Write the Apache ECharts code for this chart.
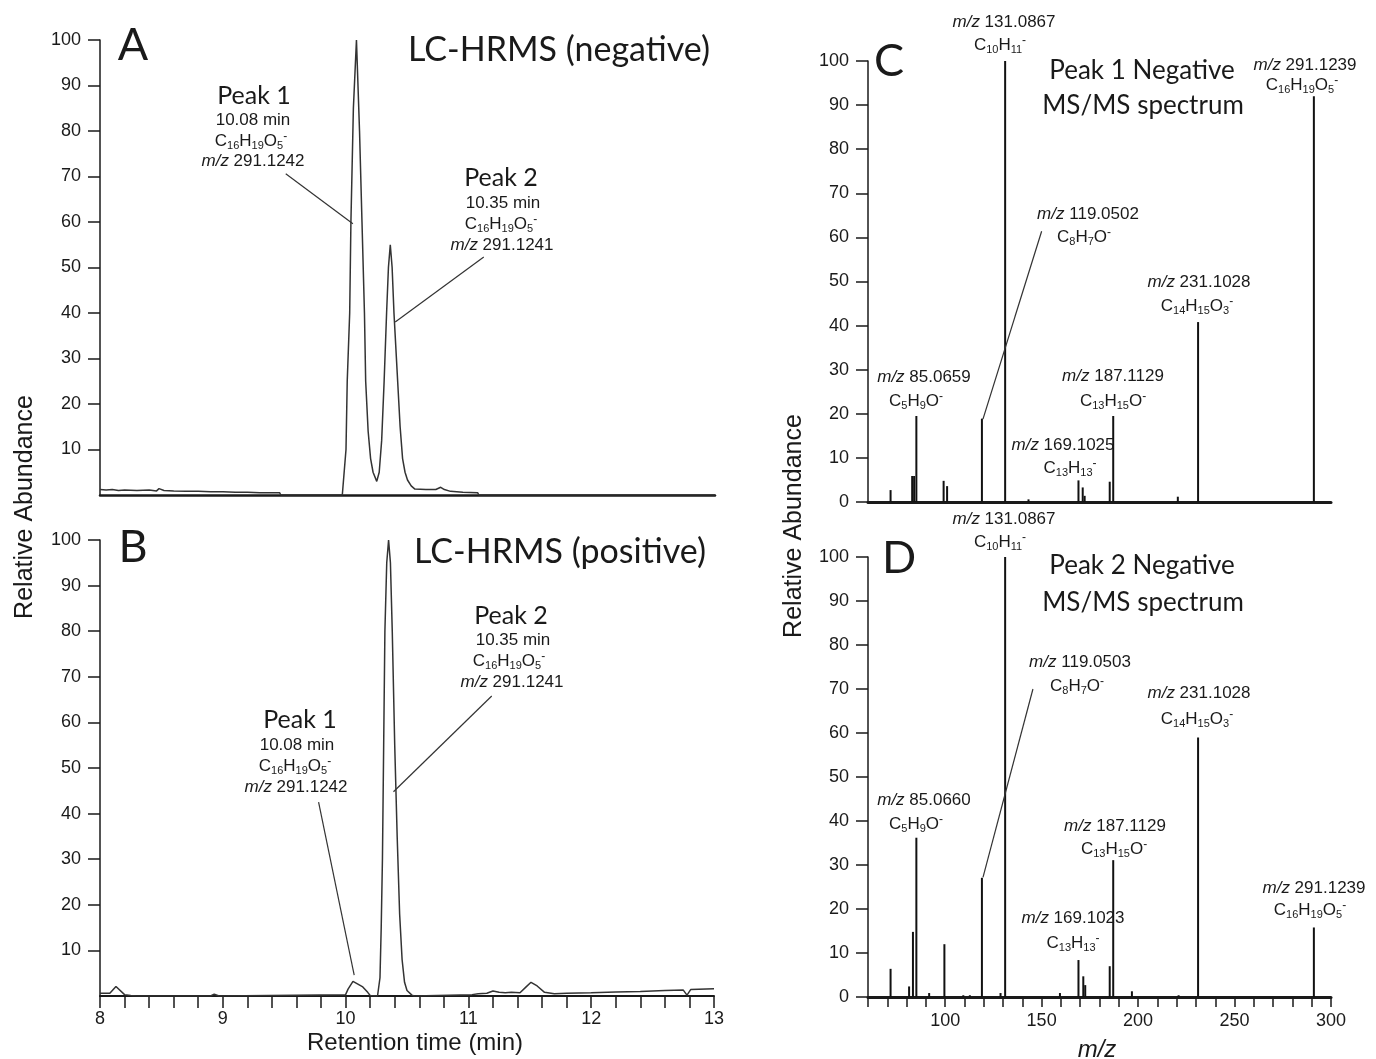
<!DOCTYPE html>
<html>
<head>
<meta charset="utf-8">
<script src="https://cdn.jsdelivr.net/npm/echarts@6/dist/echarts.min.js"></script>
<style>
html, body { margin: 0; padding: 0; background: #fff; }
#main { width: 1376px; height: 1059px; }
</style>
</head>
<body>
<div id="main"></div>
<script>
// tick labels
var timeLabels = [8, 9, 10, 11, 12, 13];
var abundanceTicks = [10, 20, 30, 40, 50, 60, 70, 80, 90, 100];
var spectrumTicks = [0, 10, 20, 30, 40, 50, 60, 70, 80, 90, 100];
var mzLabels = [100, 150, 200, 250, 300];

// LC-HRMS negative, [retention time, relative abundance]
var traceNegative = [
	[8.00, 1.2], [8.05, 1.1], [8.10, 1.2], [8.15, 1.0], [8.20, 1.1], [8.30, 1.0], [8.40, 1.1],
	[8.46, 0.9], [8.48, 1.4], [8.52, 1.0], [8.60, 0.9], [8.70, 0.8], [8.80, 0.8], [8.90, 0.7],
	[9.00, 0.7], [9.10, 0.6], [9.20, 0.6], [9.30, 0.5], [9.46, 0.5], [9.47, 0], [9.97, 0],
	[10.00, 10], [10.01, 25], [10.03, 40], [10.04, 60], [10.06, 85], [10.085, 100], [10.11, 80],
	[10.13, 60], [10.15, 40], [10.16, 25], [10.18, 14], [10.20, 8], [10.22, 5], [10.25, 3],
	[10.27, 5], [10.29, 12], [10.31, 25], [10.33, 40], [10.345, 50], [10.36, 55], [10.375, 50],
	[10.39, 40], [10.42, 25], [10.44, 15], [10.46, 8], [10.48, 5], [10.50, 3.3], [10.53, 2],
	[10.56, 1.3], [10.65, 1.2], [10.73, 1.2], [10.77, 1.7], [10.80, 1.2], [10.85, 0.8],
	[10.95, 0.6], [11.07, 0.5], [11.08, 0], [13.00, 0]
];

// LC-HRMS positive
var tracePositive = [
	[8.00, 0.6], [8.08, 0.6], [8.13, 2.1], [8.20, 0.3], [8.25, 0.1], [8.30, 0], [8.90, 0],
	[8.93, 0.4], [8.97, 0], [10.00, 0.3], [10.02, 1.5], [10.06, 3.2], [10.10, 2.6], [10.14, 2.0],
	[10.18, 0.8], [10.20, 0.1], [10.26, 0], [10.28, 4], [10.29, 15], [10.30, 30], [10.31, 55],
	[10.32, 80], [10.335, 95], [10.35, 100], [10.365, 95], [10.38, 80], [10.40, 55], [10.42, 35],
	[10.44, 18], [10.46, 8], [10.48, 3], [10.50, 1.2], [10.54, 0.2], [10.56, 0], [11.03, 0.3],
	[11.08, 0.5], [11.15, 0.6], [11.20, 1.1], [11.25, 0.8], [11.30, 0.7], [11.35, 0.8],
	[11.42, 0.7], [11.47, 2.0], [11.51, 3.0], [11.56, 2.2], [11.62, 0.8], [11.70, 0.5],
	[11.80, 0.6], [12.00, 0.7], [12.20, 0.9], [12.40, 1.0], [12.60, 1.2], [12.75, 1.3],
	[12.78, 0.2], [12.81, 1.4], [13.00, 1.6]
];

// MS/MS spectra, [m/z, relative abundance]
var spectrumPeak1 = [
	[71.7, 2.7], [82.9, 5.9], [83.9, 5.9], [85.07, 19.5], [99.2, 4.8], [101.0, 3.6],
	[119.05, 18.9], [131.09, 100], [143.2, 0.6], [169.10, 4.9], [171.3, 3.3], [172.3, 1.4],
	[185.3, 4.6], [187.11, 19.5], [220.6, 1.2], [231.10, 40.8], [291.12, 92]
];
var spectrumPeak2 = [
	[71.7, 6.4], [81.3, 2.4], [83.3, 14.8], [85.07, 36.2], [91.7, 0.9], [99.6, 12.0],
	[109.4, 0.4], [112.8, 0.4], [119.05, 27.1], [128.7, 0.9], [131.09, 100], [159.5, 0.9],
	[169.10, 8.4], [171.6, 4.7], [172.6, 2.7], [185.3, 7.0], [187.11, 31.1], [196.8, 1.3],
	[221.0, 0.4], [231.10, 59], [291.12, 15.8]
];

// leader lines, in data coordinates
var leadersA = [[[9.51, 70.6], [10.056, 59.6]], [[11.12, 52.3], [10.40, 38]]];
var leadersB = [[[11.19, 65.8], [10.39, 44.8]], [[9.78, 42.5], [10.07, 4.6]]];
var leadersC = [[[150, 61.4], [119.6, 18.8]]];
var leadersD = [[[145.5, 70], [119.6, 27.2]]];

var ARIAL = "'Liberation Sans', Arial, sans-serif";
var CALIBRI = "Lato, 'Open Sans', sans-serif";
var INK = '#1a1a1a';

var myChart = echarts.init(document.getElementById('main'), null, { renderer: 'canvas' });

function richFor(size) {
	var s = Math.round(size * 0.66);
	return {
		i: { fontStyle: 'italic', fontSize: size, fontFamily: ARIAL, fill: INK, lineHeight: size + 4 },
		s: { fontSize: s, fontFamily: ARIAL, fill: INK, verticalAlign: 'bottom', lineHeight: s + 1 },
		p: { fontSize: s + 1, fontFamily: ARIAL, fill: INK, verticalAlign: 'top', lineHeight: s + 2 }
	};
}

// small arial text, may contain subscripts
function note(x, y, text, size) {
	size = size || 17;
	return {
		type: 'text', x: x, y: y, silent: true, z: 10,
		style: {
			text: text, fontSize: size, fontFamily: ARIAL, fill: INK,
			align: 'center', verticalAlign: 'middle', lineHeight: size + 4, rich: richFor(size)
		}
	};
}

// calibri-like text
function big(x, y, text, size) {
	return {
		type: 'text', x: x, y: y, silent: true, z: 10,
		style: { text: text, fontSize: size, fontFamily: CALIBRI, fill: INK, align: 'center', verticalAlign: 'middle' }
	};
}

function leaderLines(list) {
	return {
		silent: true,
		symbol: ['none', 'none'],
		lineStyle: { color: '#333', width: 1.2, type: 'solid' },
		label: { show: false },
		emphasis: { disabled: true },
		data: list.map(function (p) { return [{ coord: p[0] }, { coord: p[1] }]; })
	};
}

function yAxisFor(idx, ticks) {
	return {
		type: 'value', gridIndex: idx, min: 0, max: 100, interval: 10,
		axisLine: { show: true, lineStyle: { color: INK, width: 1.5 } },
		axisTick: { show: true, length: 12, customValues: ticks, lineStyle: { color: INK, width: 1.5 } },
		axisLabel: { customValues: ticks, color: INK, fontSize: 18, fontFamily: ARIAL, margin: 19 },
		splitLine: { show: false }
	};
}

var grids = [
	{ left: 100, top: 40, width: 615, height: 455 },
	{ left: 100, top: 540, width: 614, height: 456 },
	{ left: 868, top: 61, width: 463, height: 441 },
	{ left: 868, top: 557, width: 463, height: 440 }
];

var option = {
	animation: false,
	backgroundColor: '#fff',
	grid: grids,
	xAxis: [
		{
			type: 'value', gridIndex: 0, min: 8, max: 13,
			axisLine: { lineStyle: { color: INK, width: 2.5 } },
			axisTick: { show: false }, axisLabel: { show: false }, splitLine: { show: false }
		},
		{
			type: 'value', gridIndex: 1, min: 8, max: 13, interval: 0.2,
			axisLine: { lineStyle: { color: INK, width: 2 } },
			axisTick: { show: true, length: 12, lineStyle: { color: INK, width: 1.5 } },
			axisLabel: {
				color: INK, fontSize: 18, fontFamily: ARIAL, margin: 14,
				formatter: function (v) {
					var r = Math.round(v * 10) / 10;
					return timeLabels.indexOf(r) >= 0 ? String(r) : '';
				}
			},
			splitLine: { show: false }
		},
		{
			type: 'value', gridIndex: 2, min: 60, max: 300,
			axisLine: { lineStyle: { color: INK, width: 3 } },
			axisTick: { show: false }, axisLabel: { show: false }, splitLine: { show: false }
		},
		{
			type: 'value', gridIndex: 3, min: 60, max: 300, interval: 10,
			axisLine: { lineStyle: { color: INK, width: 3 } },
			axisTick: { show: true, length: 10, lineStyle: { color: INK, width: 1.5 } },
			axisLabel: {
				color: INK, fontSize: 18, fontFamily: ARIAL, margin: 15,
				formatter: function (v) { return mzLabels.indexOf(v) >= 0 ? String(v) : ''; }
			},
			splitLine: { show: false }
		}
	],
	yAxis: [
		yAxisFor(0, abundanceTicks),
		yAxisFor(1, abundanceTicks),
		yAxisFor(2, spectrumTicks),
		yAxisFor(3, spectrumTicks)
	],
	series: [
		{
			name: 'LC-HRMS (negative)', type: 'line', xAxisIndex: 0, yAxisIndex: 0,
			data: traceNegative, showSymbol: false, smooth: false,
			lineStyle: { color: '#333', width: 1.5 },
			markLine: leaderLines(leadersA)
		},
		{
			name: 'LC-HRMS (positive)', type: 'line', xAxisIndex: 1, yAxisIndex: 1,
			data: tracePositive, showSymbol: false, smooth: false,
			lineStyle: { color: '#333', width: 1.5 },
			markLine: leaderLines(leadersB)
		},
		{
			name: 'Peak 1 Negative', type: 'bar', xAxisIndex: 2, yAxisIndex: 2,
			data: spectrumPeak1, barWidth: 2, itemStyle: { color: '#111' },
			markLine: leaderLines(leadersC)
		},
		{
			name: 'Peak 2 Negative', type: 'bar', xAxisIndex: 3, yAxisIndex: 3,
			data: spectrumPeak2, barWidth: 2, itemStyle: { color: '#111' },
			markLine: leaderLines(leadersD)
		}
	],
	graphic: [
		// panel A
		big(133, 45, 'A', 45),
		big(559, 50, 'LC-HRMS (negative)', 34),
		big(254, 96, 'Peak 1', 25),
		note(253, 120, '10.08 min'),
		note(251, 141, 'C{s|16}H{s|19}O{s|5}{p|-}'),
		note(253, 161, '{i|m/z} 291.1242'),
		big(501, 178, 'Peak 2', 25),
		note(503, 203, '10.35 min'),
		note(501, 224, 'C{s|16}H{s|19}O{s|5}{p|-}'),
		note(502, 245, '{i|m/z} 291.1241'),
		// panel B
		big(133, 547, 'B', 45),
		big(560, 552, 'LC-HRMS (positive)', 34),
		big(511, 616, 'Peak 2', 25),
		note(513, 640, '10.35 min'),
		note(509, 661, 'C{s|16}H{s|19}O{s|5}{p|-}'),
		note(512, 682, '{i|m/z} 291.1241'),
		big(300, 720, 'Peak 1', 25),
		note(297, 745, '10.08 min'),
		note(295, 766, 'C{s|16}H{s|19}O{s|5}{p|-}'),
		note(296, 787, '{i|m/z} 291.1242'),
		// panel C
		big(889, 61, 'C', 45),
		big(1142, 71, 'Peak 1 Negative', 26),
		big(1143, 106, 'MS/MS spectrum', 26),
		note(1004, 22, '{i|m/z} 131.0867'),
		note(1000, 45, 'C{s|10}H{s|11}{p|-}'),
		note(1305, 65, '{i|m/z} 291.1239'),
		note(1302, 85, 'C{s|16}H{s|19}O{s|5}{p|-}'),
		note(1088, 214, '{i|m/z} 119.0502'),
		note(1084, 237, 'C{s|8}H{s|7}O{p|-}'),
		note(1199, 282, '{i|m/z} 231.1028'),
		note(1197, 306, 'C{s|14}H{s|15}O{s|3}{p|-}'),
		note(924, 377, '{i|m/z} 85.0659'),
		note(916, 401, 'C{s|5}H{s|9}O{p|-}'),
		note(1113, 376, '{i|m/z} 187.1129'),
		note(1113, 401, 'C{s|13}H{s|15}O{p|-}'),
		note(1063, 445, '{i|m/z} 169.1025'),
		note(1070, 468, 'C{s|13}H{s|13}{p|-}'),
		// panel D
		big(899, 558, 'D', 45),
		big(1142, 566, 'Peak 2 Negative', 26),
		big(1143, 603, 'MS/MS spectrum', 26),
		note(1004, 519, '{i|m/z} 131.0867'),
		note(1000, 542, 'C{s|10}H{s|11}{p|-}'),
		note(1080, 662, '{i|m/z} 119.0503'),
		note(1077, 686, 'C{s|8}H{s|7}O{p|-}'),
		note(1199, 693, '{i|m/z} 231.1028'),
		note(1197, 719, 'C{s|14}H{s|15}O{s|3}{p|-}'),
		note(924, 800, '{i|m/z} 85.0660'),
		note(916, 824, 'C{s|5}H{s|9}O{p|-}'),
		note(1115, 826, '{i|m/z} 187.1129'),
		note(1114, 849, 'C{s|13}H{s|15}O{p|-}'),
		note(1073, 918, '{i|m/z} 169.1023'),
		note(1073, 943, 'C{s|13}H{s|13}{p|-}'),
		note(1314, 888, '{i|m/z} 291.1239'),
		note(1310, 910, 'C{s|16}H{s|19}O{s|5}{p|-}'),
		// axis titles
		{
			type: 'text', x: 25, y: 507, rotation: Math.PI / 2, silent: true,
			style: { text: 'Relative Abundance', fontSize: 25, fontFamily: ARIAL, fill: INK, align: 'center', verticalAlign: 'middle' }
		},
		{
			type: 'text', x: 794, y: 526, rotation: Math.PI / 2, silent: true,
			style: { text: 'Relative Abundance', fontSize: 25, fontFamily: ARIAL, fill: INK, align: 'center', verticalAlign: 'middle' }
		},
		note(415, 1043, 'Retention time (min)', 24),
		note(1097, 1050, '{i|m/z}', 24)
	]
};

myChart.setOption(option);
</script>
</body>
</html>
